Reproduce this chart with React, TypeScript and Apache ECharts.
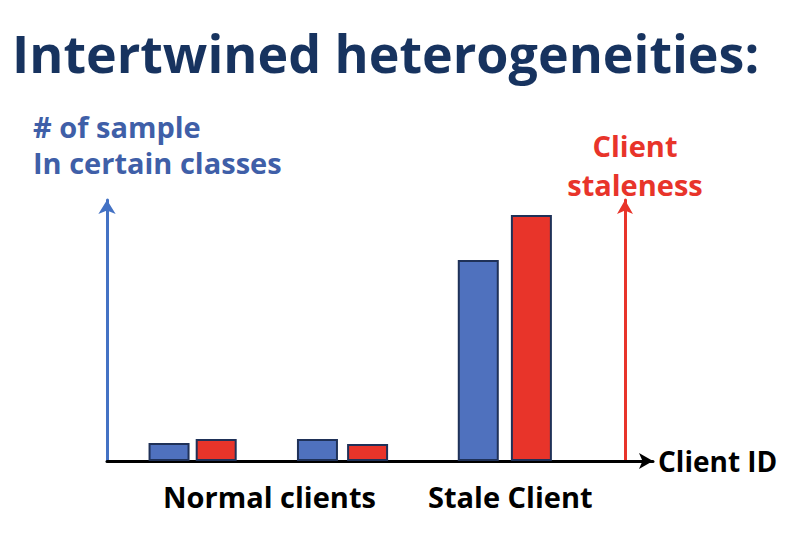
import React, { useEffect, useRef } from "react";
import * as echarts from "echarts";

// Client positions along the "Client ID" axis
const samplePositions = [1.25, 4.24, 7.48];
const stalePositions = [2.2, 5.25, 8.55];
// # of samples in certain classes (blue) and client staleness (red)
const sampleValues = [18, 22, 201];
const staleValues = [22, 17, 246];

const titleText = "Intertwined heterogeneities:";
const leftAxisLabel = ["# of sample", "In certain classes"];
const rightAxisLabel = ["Client", "staleness"];
const groupLabels = ["Normal clients", "Stale Client"];
const xAxisName = "Client ID";

const FONT = "Open Sans";
const BLUE = "#4F71BE";
const AXIS_BLUE = "#4472C4";
const LABEL_BLUE = "#3F5FA8";
const RED = "#E8342A";
const NAVY = "#17335F";

export default function App() {
  const ref = useRef<HTMLDivElement>(null);
  useEffect(() => {
    document.body.style.margin = "0";
    if (!ref.current) return;
    const chart = echarts.init(ref.current, undefined, { renderer: "svg" });
    const txt = (
      text: string,
      x: number,
      y: number,
      size: number,
      fill: string,
      align = "left",
      lineHeight?: number
    ) => ({
      type: "text",
      x,
      y,
      style: {
        text,
        fontFamily: FONT,
        fontWeight: "bold",
        fontSize: size,
        lineHeight: lineHeight ?? size * 1.2,
        fill,
        align,
        verticalAlign: "middle",
      },
    });
    chart.setOption({
      animation: false,
      backgroundColor: "#fff",
      grid: { left: 107, right: 157, top: 200, bottom: 95, containLabel: false },
      xAxis: {
        type: "value",
        min: 0,
        max: 11,
        axisLine: {
          show: true,
          symbol: ["none", "arrow"],
          symbolSize: [12, 14],
          lineStyle: { color: "#000", width: 3 },
        },
        axisTick: { show: false },
        axisLabel: { show: false },
        splitLine: { show: false },
        name: xAxisName,
        nameLocation: "end",
        nameGap: 5,
        nameTextStyle: { fontFamily: FONT, fontWeight: "bold", fontSize: 28, color: "#000" },
      },
      yAxis: [
        {
          type: "value",
          position: "left",
          min: 0,
          max: 261,
          axisLine: {
            show: true,
            symbol: ["none", "arrow"],
            symbolSize: [13, 14],
            lineStyle: { color: AXIS_BLUE, width: 3 },
          },
          axisTick: { show: false },
          axisLabel: { show: false },
          splitLine: { show: false },
        },
        {
          type: "value",
          position: "right",
          offset: -28,
          min: 0,
          max: 258,
          axisLine: {
            show: true,
            symbol: ["none", "arrow"],
            symbolSize: [12, 14],
            lineStyle: { color: RED, width: 3 },
          },
          axisTick: { show: false },
          axisLabel: { show: false },
          splitLine: { show: false },
        },
      ],
      series: [
        {
          type: "bar",
          name: "# of sample",
          barWidth: 41,
          barGap: "-100%",
          data: samplePositions.map((x, i) => [x, sampleValues[i]]),
          itemStyle: { color: BLUE, borderColor: "#1F3158", borderWidth: 2 },
        },
        {
          type: "bar",
          name: "Client staleness",
          barWidth: 41,
          barGap: "-100%",
          data: stalePositions.map((x, i) => [x, staleValues[i]]),
          itemStyle: { color: RED, borderColor: "#1F3158", borderWidth: 2 },
        },
      ],
      graphic: [
        txt(titleText, 12, 52, 52, NAVY),
        txt(leftAxisLabel.join("\n"), 33, 144, 29, LABEL_BLUE, "left", 36),
        txt(rightAxisLabel.join("\n"), 635, 165, 29, RED, "center", 39),
        txt(groupLabels[0], 163, 496, 29, "#000"),
        txt(groupLabels[1], 428, 496, 29, "#000"),
      ],
    });
    return () => chart.dispose();
  }, []);
  return <div ref={ref} style={{ width: 810, height: 556 }} />;
}
